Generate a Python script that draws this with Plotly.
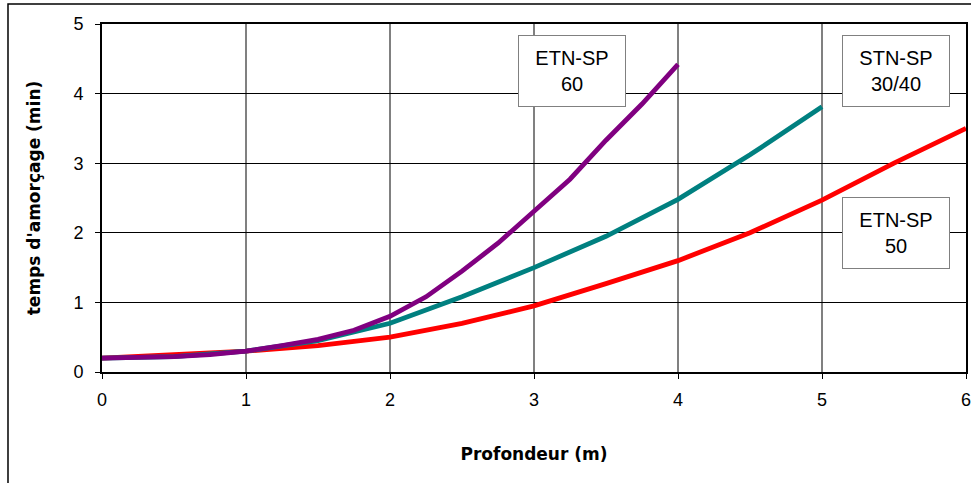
import plotly.graph_objects as go

x_etn60 = [0, 0.25, 0.5, 0.75, 1, 1.25, 1.5, 1.75, 2, 2.25, 2.5, 2.75, 3, 3.25, 3.5, 3.75, 4]
y_etn60 = [0.2, 0.21, 0.22, 0.25, 0.3, 0.38, 0.47, 0.6, 0.8, 1.08, 1.45, 1.85, 2.3, 2.77, 3.33, 3.85, 4.42]

x_stn = [0, 0.5, 1, 1.5, 2, 2.5, 3, 3.5, 4, 4.5, 5]
y_stn = [0.2, 0.22, 0.3, 0.45, 0.7, 1.08, 1.5, 1.95, 2.48, 3.12, 3.81]

x_etn50 = [0, 0.5, 1, 1.5, 2, 2.5, 3, 3.5, 4, 4.5, 5, 5.5, 6]
y_etn50 = [0.2, 0.25, 0.3, 0.38, 0.5, 0.7, 0.95, 1.27, 1.6, 2.0, 2.47, 3.0, 3.5]

x_ticks = [0, 1, 2, 3, 4, 5, 6]
y_ticks = [0, 1, 2, 3, 4, 5]

labels = [
    ("ETN-SP<br>60", 3.264, 4.32),
    ("STN-SP<br>30/40", 5.514, 4.32),
    ("ETN-SP<br>50", 5.514, 2.0),
]

fig = go.Figure()
fig.add_trace(go.Scatter(x=x_etn50, y=y_etn50, mode="lines",
                         line=dict(color="#FF0000", width=4.8)))
fig.add_trace(go.Scatter(x=x_stn, y=y_stn, mode="lines",
                         line=dict(color="#008080", width=4.8)))
fig.add_trace(go.Scatter(x=x_etn60, y=y_etn60, mode="lines",
                         line=dict(color="#800080", width=4.8)))

for txt, ax, ay in labels:
    fig.add_annotation(x=ax, y=ay, text=txt, showarrow=False,
                       font=dict(family="Arial, Liberation Sans", size=20, color="black"),
                       bgcolor="white", bordercolor="#808080", borderwidth=1,
                       width=102, height=66, borderpad=2, align="center")

fig.add_shape(type="rect", xref="paper", yref="paper",
              x0=-0.1088, x1=1.2, y0=-0.6, y1=1.0575,
              line=dict(color="black", width=1.5), layer="below")

fig.update_layout(
    width=971, height=483,
    margin=dict(l=102, r=5, t=24, b=111),
    plot_bgcolor="white", paper_bgcolor="white",
    showlegend=False,
    font=dict(family="Arial, Liberation Sans", color="black"),
    xaxis=dict(range=[0, 6], tickvals=x_ticks, showgrid=True, automargin=False,
               gridcolor="#808080", gridwidth=1.5,
               showline=True, linecolor="black", linewidth=2, mirror=True,
               ticks="outside", ticklen=5, tickcolor="black",
               ticklabelstandoff=5, ticklabeloverflow="allow",
               tickfont=dict(size=18), zeroline=False,
               title=dict(text="<b>Profondeur (m)</b>",
                          font=dict(family="DejaVu Sans", size=17), standoff=40)),
    yaxis=dict(range=[0, 5], tickvals=y_ticks, showgrid=True, automargin=False,
               gridcolor="black", gridwidth=1,
               showline=True, linecolor="black", linewidth=2, mirror=True,
               ticks="outside", ticklen=5, tickcolor="black",
               ticklabelstandoff=8, ticklabeloverflow="allow",
               tickfont=dict(size=18), zeroline=False,
               title=dict(text="<b>temps d'amorçage (min)</b>",
                          font=dict(family="DejaVu Sans", size=17), standoff=28)),
)

fig.write_html("out.html", config={"displayModeBar": False},
               post_script="document.body.style.margin='0';")
